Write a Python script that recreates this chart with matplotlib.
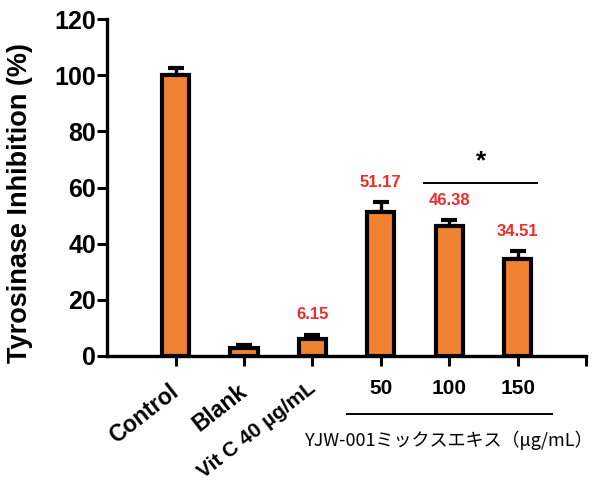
import matplotlib
matplotlib.use("Agg")
import matplotlib.pyplot as plt

plt.rcParams['font.family'] = ['Liberation Sans', 'DejaVu Sans']

# data
groups = ['Control', 'Blank', 'Vit C 40 µg/mL', '50', '100', '150']
values = [100.0, 2.8, 6.15, 51.17, 46.38, 34.51]
errors = [2.5, 1.0, 1.5, 3.6, 2.0, 3.0]
shown = ['', '', '6.15', '51.17', '46.38', '34.51']
yticks = [0, 20, 40, 60, 80, 100, 120]
group_title = 'YJW-001ミックスエキス（μg/mL）'

orange = '#F08232'

fig = plt.figure(figsize=(5.95, 4.88), dpi=100)
ax = fig.add_axes([0.18, 0.2705, 0.805, 0.6905])

x = list(range(len(groups)))
ax.bar(x, values, width=0.4, color=orange, edgecolor='black', linewidth=3, zorder=3)
ax.errorbar(x, values, yerr=[[0] * len(errors), errors], fmt='none', ecolor='black',
            elinewidth=2.4, capsize=6, capthick=3, zorder=2)

ax.set_xlim(-1, 6)
ax.set_ylim(0, 120)
ax.set_yticks(yticks)
ax.set_yticklabels([str(t) for t in yticks], fontsize=18, fontweight='bold')
ax.set_xticks(range(7))
ax.set_xticklabels([])
ax.tick_params(axis='both', length=7, width=2.2, direction='out')
ax.tick_params(axis='y', pad=1)
for s in ['top', 'right']:
    ax.spines[s].set_visible(False)
for s in ['left', 'bottom']:
    ax.spines[s].set_linewidth(2.4)

ax.set_ylabel('Tyrosinase Inhibition (%)', fontsize=19.5, fontweight='bold')
ax.yaxis.set_label_coords(-0.155, 0.454)

trans = ax.get_xaxis_transform()
for i, g in enumerate(groups):
    if i < 3:
        ax.text(i + 0.01, -0.098 if i < 2 else -0.09, g, transform=trans, rotation=38,
                rotation_mode='anchor', ha='right', va='center',
                fontsize=16.5 if i < 2 else 15, fontweight='bold')
    else:
        ax.text(i, -0.095, g, transform=trans, ha='center', va='center',
                fontsize=15, fontweight='bold')

for i, s in enumerate(shown):
    if s:
        ax.text(i, values[i] + errors[i] + 7, s, ha='center', va='center',
                color='#EE2A2A', fontsize=12, fontweight='bold')

# significance bar
ax.plot([3.63, 5.29], [61.5, 61.5], color='black', linewidth=1.4, clip_on=False)
ax.text(4.46, 69.5, '*', ha='center', va='center', fontsize=19, fontweight='bold')

# group line under the extract concentrations
ax.plot([2.5, 5.5], [-0.172, -0.172], color='black', linewidth=1.4, transform=trans, clip_on=False)
ax.text(4.0, -0.25, group_title, transform=trans, ha='center', va='center', fontsize=13,
        family=['Noto Sans CJK JP', 'DejaVu Sans'])

fig.savefig('out.png', dpi=100)
